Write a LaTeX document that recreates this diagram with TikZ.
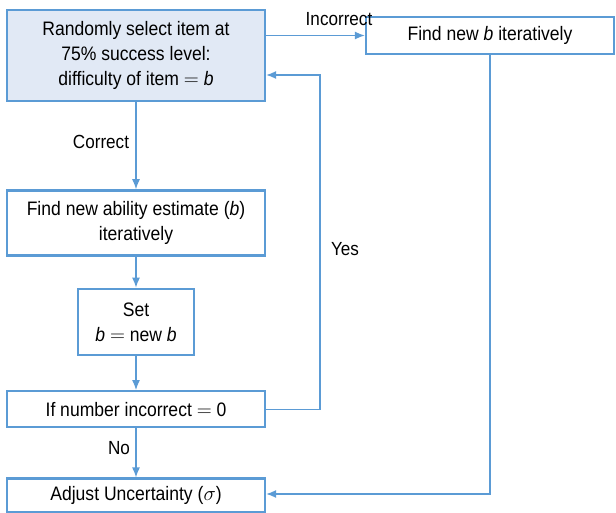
\documentclass[tikz,border=0pt]{standalone}
\usepackage{fontspec}
\setmainfont{Liberation Sans}[FakeStretch=0.9]
\usepackage{tikz}
\usetikzlibrary{positioning, arrows.meta}
\definecolor{flowblue}{HTML}{5B9BD5}
\definecolor{flowfill}{HTML}{E1E9F5}
\newcommand{\bvar}{\textit{b}}

\begin{document}
\begin{tikzpicture}[
  x=1pt, y=-1pt,
  box/.style={draw=flowblue, line width=2.4pt, minimum width=258pt,
              align=center, inner sep=2pt,
              font=\fontsize{19.5}{25}\selectfont},
  link/.style={draw=flowblue, line width=1.2pt},
  lbl/.style={font=\fontsize{19}{20}\selectfont},
  >={Latex[length=10pt,width=8pt]}
]
  \useasboundingbox (0,0) rectangle (616,512);

  % Top: item selection
  \node[box, fill=flowfill, minimum height=91pt] (select) at (136,55.5)
    {Randomly select item at\\75\% success level:\\difficulty of item $=$ \bvar};
  \node[box, minimum width=248pt, minimum height=37pt] (newb) at (490,35.5)
    {Find new \bvar\ iteratively};

  % Correct branch
  \node[box, minimum height=65pt, below=87pt of select] (ability)
    {Find new ability estimate (\bvar)\\iteratively};
  \node[box, minimum width=116pt, minimum height=66pt, below=31pt of ability] (set)
    {Set\\\bvar\ $=$ new \bvar};

  % Test and end
  \node[box, minimum height=36pt, below=34pt of set] (test)
    {If number incorrect $=$ 0};
  \node[box, minimum height=34pt, below=49pt of test] (adjust)
    {Adjust Uncertainty ($\sigma$)};

  % Helper corners
  \coordinate (yesin) at (select.east |- 0,75);
  \coordinate (yestop) at (320,75);
  \coordinate (yesbot) at (320,0 |- test.east);
  \coordinate (endin) at (adjust.east |- 0,494);
  \coordinate (endcorner) at (newb.south |- endin);

  % Arrows
  \draw[link, ->] (select.east |- newb.west) -- (newb.west);
  \draw[link, ->] (select) -- (ability);
  \draw[link, ->] (ability) -- (set);
  \draw[link, ->] (set) -- (test);
  \draw[link, ->] (test) -- (adjust);
  \draw[link, ->] (test.east) -- (yesbot) -- (yestop) -- (yesin);
  \draw[link, ->] (newb.south) -- (endcorner) -- (endin);

  % Labels
  \node[lbl] (incorrect) at (339,19) {Incorrect};
  \node[lbl] (correct) at (101,142) {Correct};
  \node[lbl] (yes) at (345,249) {Yes};
  \node[lbl] (no) at (119,448) {No};
\end{tikzpicture}
\end{document}
